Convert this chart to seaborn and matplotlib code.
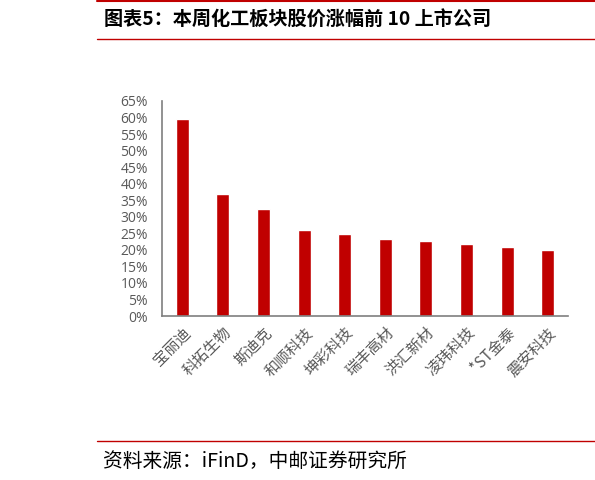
import matplotlib
matplotlib.use("Agg")
import matplotlib.pyplot as plt
import seaborn as sns
import pandas as pd
from matplotlib.lines import Line2D

# data (percent gain this week)
companies = ["宝丽迪", "科拓生物", "斯迪克", "和顺科技", "坤彩科技",
             "瑞丰高材", "洪汇新材", "凌玮科技", "*ST金泰", "震安科技"]
gains = [59.5, 36.9, 32.3, 25.9, 24.8, 23.2, 22.6, 21.8, 20.9, 19.9]
y_ticks = list(range(0, 70, 5))

title = "图表5：本周化工板块股价涨幅前 10 上市公司"
source = "资料来源：iFinD，中邮证券研究所"

sns.set_theme(style="white")
plt.rcParams['font.family'] = ['Noto Sans CJK SC', 'DejaVu Sans']

df = pd.DataFrame({"company": companies, "gain": gains})

fig = plt.figure(figsize=(5.95, 4.8), dpi=100)
ax = fig.add_axes([162 / 595, 1 - 316 / 480, (568 - 162) / 595, (316 - 101) / 480])

sns.barplot(data=df, x="company", y="gain", color="#C00000", saturation=1,
            width=0.32, ax=ax)

ax.set_ylim(0, 65)
ax.set_xlim(-0.5, len(companies) - 0.5)
ax.set_yticks(y_ticks)
ax.set_yticklabels([f"{t}%" for t in y_ticks], fontsize=10, color="#595959",
                   family=["Open Sans", "DejaVu Sans"])
ax.set_xticks(range(len(companies)))
ax.set_xticklabels(companies, rotation=45, ha="right", rotation_mode="anchor",
                   fontsize=11, color="#595959")
ax.tick_params(axis="y", length=0, pad=10)
ax.tick_params(axis="x", length=0, pad=6)
ax.set_xlabel("")
ax.set_ylabel("")
for side in ["top", "right"]:
    ax.spines[side].set_visible(False)
for side in ["left", "bottom"]:
    ax.spines[side].set_color("#7f7f7f")
    ax.spines[side].set_linewidth(1.2)

# header / footer lines in report style
red = "#C00000"
fig.add_artist(Line2D([97 / 595, 1], [1 - 1 / 480, 1 - 1 / 480], color=red, lw=1.5))
fig.add_artist(Line2D([97 / 595, 1], [1 - 38.5 / 480, 1 - 38.5 / 480], color=red, lw=1))
fig.add_artist(Line2D([97 / 595, 1], [1 - 440.5 / 480, 1 - 440.5 / 480], color=red, lw=1))

fig.text(104 / 595, 1 - 20 / 480, title, fontsize=13.8, fontweight="bold",
         va="center", ha="left", color="black")
fig.text(103 / 595, 1 - 461 / 480, source, fontsize=14.2, va="center", ha="left",
         color="black")

fig.savefig("out.png", dpi=100)
